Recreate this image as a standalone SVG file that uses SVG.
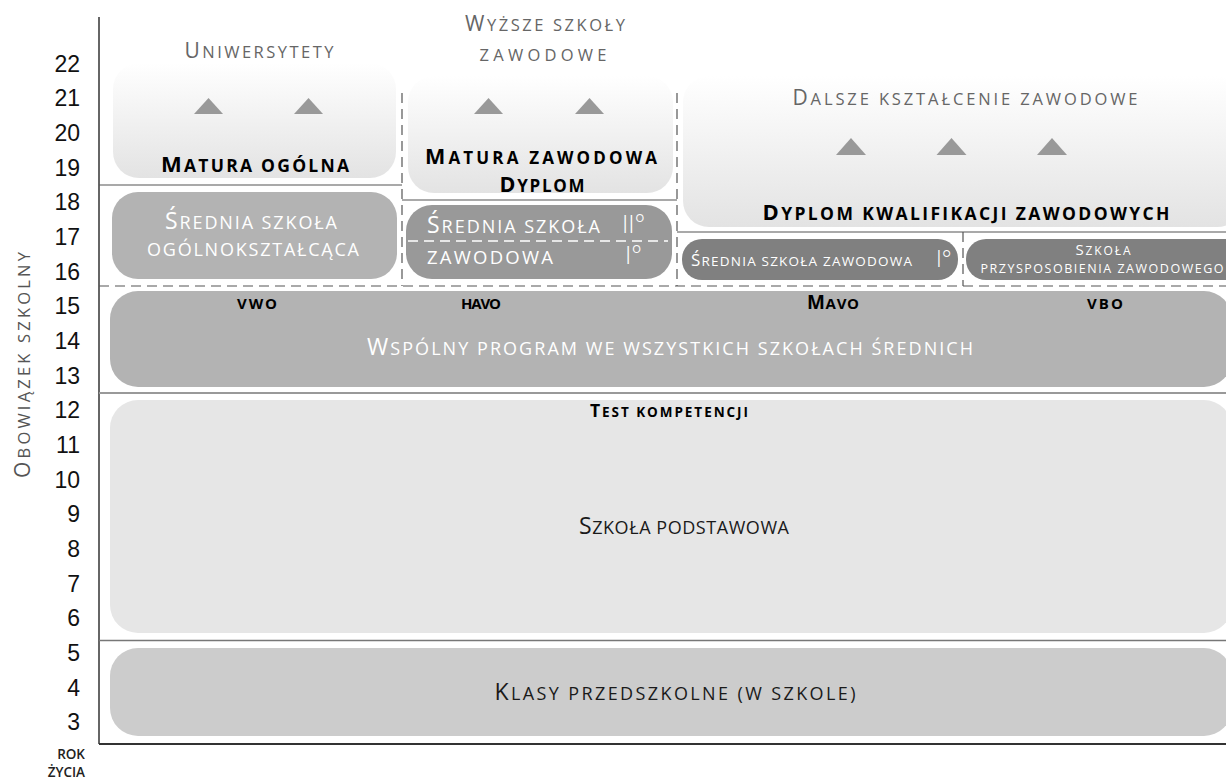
<svg xmlns="http://www.w3.org/2000/svg" width="1226" height="779" viewBox="0 0 1226 779">
<defs>
<linearGradient id="gTop" x1="0" y1="0" x2="0" y2="1">
<stop offset="0" stop-color="#ffffff"/>
<stop offset="1" stop-color="#e3e3e3"/>
</linearGradient>
<style>
.f{font-family:"Open Sans","DejaVu Sans",sans-serif;}
.u{text-transform:uppercase;}
.num{font-family:"Liberation Sans",Arial,sans-serif;font-size:23px;fill:#111;text-anchor:end;}
.ttl{fill:#666;}
.bd{font-weight:bold;fill:#000;}
.wh{fill:#fff;}
.dk{fill:#1a1a1a;}
.mid{text-anchor:middle;}
.tri{fill:#999;}
.sep{stroke:#555;stroke-width:1.2;fill:none;}
.dash{stroke:#555;stroke-width:1.2;stroke-dasharray:10 6;fill:none;}
.deg{font-family:"Open Sans",sans-serif;fill:#fff;font-weight:300;}
</style>
</defs>
<rect width="1226" height="779" fill="#fff"/>

<g id="axis-numbers">
<text class="num" x="80" y="71.5">22</text>
<text class="num" x="80" y="106.2">21</text>
<text class="num" x="80" y="140.9">20</text>
<text class="num" x="80" y="175.5">19</text>
<text class="num" x="80" y="210.2">18</text>
<text class="num" x="80" y="244.9">17</text>
<text class="num" x="80" y="279.6">16</text>
<text class="num" x="80" y="314.3">15</text>
<text class="num" x="80" y="348.9">14</text>
<text class="num" x="80" y="383.6">13</text>
<text class="num" x="80" y="418.3">12</text>
<text class="num" x="80" y="453">11</text>
<text class="num" x="80" y="487.7">10</text>
<text class="num" x="80" y="522.3">9</text>
<text class="num" x="80" y="557">8</text>
<text class="num" x="80" y="591.7">7</text>
<text class="num" x="80" y="626.4">6</text>
<text class="num" x="80" y="661">5</text>
<text class="num" x="80" y="695.7">4</text>
<text class="num" x="80" y="730.4">3</text>
</g>

<g id="axis-labels">
<text class="f mid" x="0" y="0" fill="#555" transform="translate(30,365) rotate(-90)" textLength="226" lengthAdjust="spacing"><tspan font-size="21">O</tspan><tspan class="u" font-size="16.5">bowiązek szkolny</tspan></text>
<text class="f u" x="85" y="759" font-size="13.5" font-weight="600" text-anchor="end" fill="#222">rok</text>
<text class="f u" x="85" y="777" font-size="13.5" font-weight="600" text-anchor="end" fill="#222">życia</text>
</g>

<g id="node-uniwersytety">
<rect x="113" y="63" width="283" height="115" rx="26" fill="url(#gTop)"/>
<text class="f ttl mid" x="259" y="58" textLength="149" lengthAdjust="spacing"><tspan font-size="21">U</tspan><tspan class="u" font-size="16.5">niwersytety</tspan></text>
<polygon class="tri" points="208.5,98 223,114 194,114"/>
<polygon class="tri" points="308.5,98 323,114 294,114"/>
<text class="f bd mid" x="255" y="172" textLength="188" lengthAdjust="spacing"><tspan font-size="22">M</tspan><tspan class="u" font-size="17.5">atura ogólna</tspan></text>
</g>

<g id="node-wyzsze">
<rect x="408" y="76" width="265" height="117" rx="26" fill="url(#gTop)"/>
<text class="f ttl mid" x="545" y="31" textLength="160" lengthAdjust="spacing"><tspan font-size="21">W</tspan><tspan class="u" font-size="16.5">yższe szkoły</tspan></text>
<text class="f ttl mid u" x="543" y="61" font-size="16.5" textLength="127" lengthAdjust="spacing">zawodowe</text>
<polygon class="tri" points="488.5,98 503,114 474,114"/>
<polygon class="tri" points="589.5,98 604,114 575,114"/>
<text class="f bd mid" x="541" y="164" textLength="232" lengthAdjust="spacing"><tspan font-size="21.5">M</tspan><tspan class="u" font-size="17">atura zawodowa</tspan></text>
<text class="f bd mid" x="542" y="192" textLength="85" lengthAdjust="spacing"><tspan font-size="21.5">D</tspan><tspan class="u" font-size="17">yplom</tspan></text>
</g>

<g id="node-dalsze">
<rect x="683" y="76" width="560" height="151" rx="26" fill="url(#gTop)"/>
<text class="f ttl mid" x="965" y="105" textLength="345" lengthAdjust="spacing"><tspan font-size="21">D</tspan><tspan class="u" font-size="16.5">alsze kształcenie zawodowe</tspan></text>
<polygon class="tri" points="851,138 866,155 836,155"/>
<polygon class="tri" points="951.5,138 966.5,155 936.5,155"/>
<polygon class="tri" points="1052,138 1067,155 1037,155"/>
<text class="f bd mid" x="966" y="220" textLength="407" lengthAdjust="spacing"><tspan font-size="22">D</tspan><tspan class="u" font-size="17.5">yplom kwalifikacji zawodowych</tspan></text>
</g>

<g id="node-ogolnoksztalcaca">
<rect x="112" y="192" width="285" height="87" rx="26" fill="#b3b3b3"/>
<text class="f wh mid" x="251" y="229" textLength="172" lengthAdjust="spacing"><tspan font-size="23">Ś</tspan><tspan class="u" font-size="18">rednia szkoła</tspan></text>
<text class="f wh mid u" x="253" y="256" font-size="18" textLength="212" lengthAdjust="spacing">ogólnokształcąca</text>
</g>

<g id="node-srednia-zawodowa">
<rect x="406" y="205" width="266" height="74" rx="26" fill="#999"/>
<line x1="408" y1="241" x2="668" y2="241" stroke="#fff" stroke-width="1.6" stroke-dasharray="10 6"/>
<text class="f wh" x="427" y="233" textLength="173" lengthAdjust="spacing"><tspan font-size="23">Ś</tspan><tspan class="u" font-size="18">rednia szkoła</tspan></text>
<text class="deg" x="622" y="233" font-size="25">II°</text>
<text class="f wh u" x="427" y="264" font-size="18.5" textLength="126" lengthAdjust="spacing">zawodowa</text>
<text class="deg" x="625" y="264" font-size="25">I°</text>
</g>

<g id="node-srednia-zawodowa-1">
<rect x="682" y="239" width="276" height="41" rx="20" fill="#808080"/>
<text class="f wh" x="691" y="266" textLength="221" lengthAdjust="spacing"><tspan font-size="17">Ś</tspan><tspan class="u" font-size="13.5">rednia szkoła zawodowa</tspan></text>
<text class="deg" x="936" y="267" font-size="23">I°</text>
</g>

<g id="node-przysposobienia">
<rect x="966" y="239" width="280" height="41" rx="20" fill="#808080"/>
<text class="f wh mid" x="1103" y="255" textLength="55" lengthAdjust="spacing"><tspan font-size="15">S</tspan><tspan class="u" font-size="12">zkoła</tspan></text>
<text class="f wh mid u" x="1102" y="273" font-size="12.5" textLength="243" lengthAdjust="spacing">przysposobienia zawodowego</text>
</g>

<g id="node-wspolny">
<rect x="110" y="291" width="1122" height="96" rx="28" fill="#b3b3b3"/>
<text class="f bd mid u" x="257" y="309" font-size="15" textLength="40" lengthAdjust="spacing">vwo</text>
<text class="f bd mid u" x="481" y="309" font-size="15" textLength="40" lengthAdjust="spacing">havo</text>
<text class="f bd mid" x="833" y="309" textLength="52" lengthAdjust="spacing"><tspan font-size="19">M</tspan><tspan class="u" font-size="15">avo</tspan></text>
<text class="f bd mid u" x="1105" y="309" font-size="15" textLength="36" lengthAdjust="spacing">vbo</text>
<text class="f wh mid" x="670" y="355" textLength="606" lengthAdjust="spacing"><tspan font-size="23">W</tspan><tspan class="u" font-size="18">spólny program we wszystkich szkołach średnich</tspan></text>
</g>

<g id="node-podstawowa">
<rect x="110" y="400" width="1122" height="233" rx="28" fill="#e6e6e6"/>
<text class="f bd mid" x="669" y="417" textLength="158" lengthAdjust="spacing"><tspan font-size="17.5">T</tspan><tspan class="u" font-size="13.5">est kompetencji</tspan></text>
<text class="f dk mid" x="684" y="534" textLength="210" lengthAdjust="spacing"><tspan font-size="23">S</tspan><tspan class="u" font-size="18">zkoła podstawowa</tspan></text>
</g>

<g id="node-przedszkolne">
<rect x="110" y="648" width="1122" height="88" rx="28" fill="#ccc"/>
<text class="f dk mid" x="675" y="700" textLength="361" lengthAdjust="spacing"><tspan font-size="23">K</tspan><tspan class="u" font-size="18">lasy przedszkolne (w szkole)</tspan></text>
</g>

<g id="connectors">
<line x1="99" y1="17" x2="99" y2="744" stroke="#333" stroke-width="1.5"/>
<line x1="99" y1="744" x2="1226" y2="744" stroke="#333" stroke-width="2"/>
<line class="sep" x1="99" y1="185" x2="402" y2="185"/>
<line class="sep" x1="402" y1="200" x2="677" y2="200"/>
<line class="sep" x1="677" y1="232" x2="1226" y2="232"/>
<line x1="99" y1="393" x2="1226" y2="393" stroke="#999" stroke-width="2"/>
<line x1="99" y1="640.5" x2="1226" y2="640.5" stroke="#777" stroke-width="1.5"/>
<line class="dash" x1="99" y1="286" x2="1226" y2="286"/>
<line class="dash" x1="402" y1="93" x2="402" y2="286"/>
<line class="dash" x1="677" y1="93" x2="677" y2="286"/>
<line class="dash" x1="963" y1="232" x2="963" y2="286"/>
</g>
</svg>
